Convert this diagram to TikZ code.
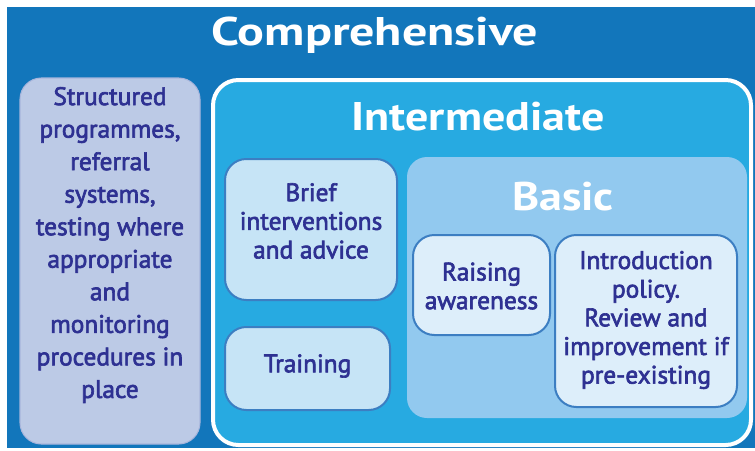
\documentclass[tikz,border=0pt]{standalone}
\usepackage{fontspec}
\setmainfont{PT Sans}
\newfontfamily\titlefont{PT Sans}[FakeBold=0]
\newfontfamily\bodyfont{PT Sans}[FakeBold=2.5]
\definecolor{outerbg}{HTML}{1276BB}
\definecolor{leftfill}{HTML}{BCCAE6}
\definecolor{leftedge}{HTML}{A7B5DC}
\definecolor{interfill}{HTML}{27AAE1}
\definecolor{basicfill}{HTML}{92C9EF}
\definecolor{midfill}{HTML}{C6E4F6}
\definecolor{lightfill}{HTML}{DDEEFA}
\definecolor{boxedge}{HTML}{3C7EC2}
\definecolor{navy}{HTML}{2E3192}
\begin{document}
\begin{tikzpicture}[x=0.75pt,y=-0.75pt,
  panel/.style={rectangle,inner sep=0pt,outer sep=0pt},
  titletext/.style={text=white,font=\titlefont\bfseries\fontsize{30}{32}\selectfont,inner sep=0pt},
  bodytext/.style={text=navy,font=\bodyfont\fontsize{19}{21.5}\selectfont,align=center,inner sep=0pt},
  inbox/.style={panel,draw=boxedge,line width=1.5pt,rounded corners=16pt},
]
\useasboundingbox (0,0) rectangle (755,450);
\fill[white] (0,0) rectangle (755,450);
% outer background
\node[panel,fill=outerbg,minimum width=561pt,minimum height=330.75pt] (bg) at (381,227.5) {};
\node[titletext,xscale=1.25] (comp) at (375,35) {Comprehensive};
% left column
\node[panel,fill=leftfill,draw=leftedge,line width=0.8pt,rounded corners=16pt,minimum width=135pt,minimum height=274.5pt] (left) at (110,261) {};
\node[bodytext,font=\bodyfont\fontsize{19}{24.4}\selectfont] (lefttext) at (110,245) {Structured\\programmes,\\referral\\systems,\\testing where\\appropriate\\and\\monitoring\\procedures in\\place};
% intermediate
\node[panel,fill=interfill,draw=white,line width=3pt,rounded corners=19pt,minimum width=403.5pt,minimum height=273.75pt] (inter) at (482,262.5) {};
\node[titletext,xscale=1.15] (intertitle) at (478,117) {Intermediate};
\node[inbox,fill=midfill,minimum width=129pt,minimum height=105.75pt] (brief) at (311,229.5) {};
\node[bodytext] (brieftext) at (311,221) {Brief\\interventions\\and advice};
\node[inbox,fill=midfill,minimum width=123.75pt,minimum height=62.25pt] (training) at (307.5,368.5) {};
\node[bodytext] (trainingtext) at (307.5,366) {Training};
% basic
\node[panel,fill=basicfill,rounded corners=15pt,minimum width=255pt,minimum height=195.75pt] (basic) at (577,287.5) {};
\node[titletext,xscale=1.15] (basictitle) at (563,197) {Basic};
\node[inbox,fill=lightfill,minimum width=102.75pt,minimum height=75pt] (raising) at (481.5,285) {};
\node[bodytext] (raisingtext) at (481.5,286) {Raising\\awareness};
\node[inbox,fill=lightfill,minimum width=136.5pt,minimum height=129pt] (intro) at (646,321) {};
\node[bodytext] (introtext) at (646,320) {Introduction\\policy.\\Review and\\improvement if\\pre-existing};
\end{tikzpicture}
\end{document}
